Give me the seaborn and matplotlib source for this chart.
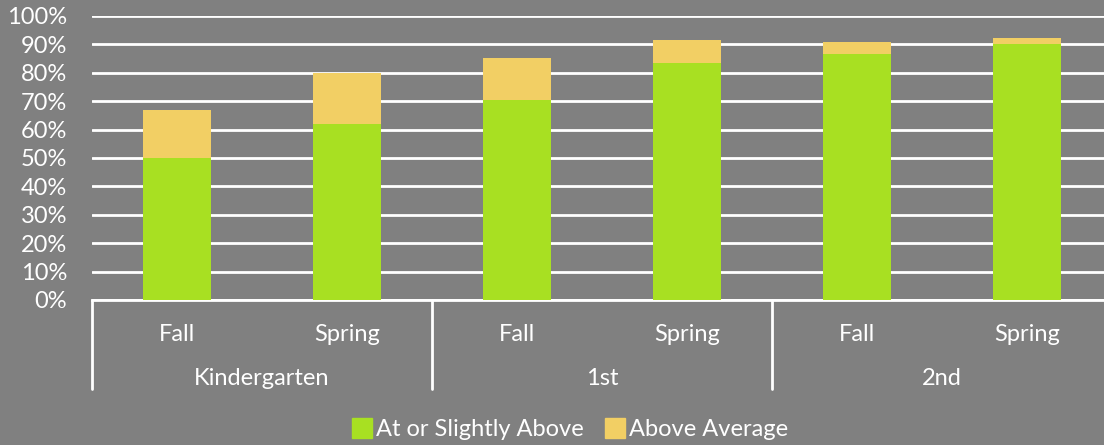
"""
Reading benchmark: share of students at or above benchmark, by grade and term.
"""

import pandas as pd
import seaborn as sns
from matplotlib import pyplot as plt
from matplotlib.lines import Line2D
from matplotlib import transforms

grades = ["Kindergarten", "Kindergarten", "1st", "1st", "2nd", "2nd"]
terms = ["Fall", "Spring", "Fall", "Spring", "Fall", "Spring"]
at_or_slightly_above = [50.0, 62.0, 70.5, 83.5, 86.5, 90.0]
above_average = [17.0, 18.0, 14.7, 8.0, 4.3, 2.3]
group_names = ["Kindergarten", "1st", "2nd"]

green = "#A8E022"
yellow = "#F2CF64"
bg = "#808080"

df = pd.DataFrame({
    "slot": [f"{g} {t}" for g, t in zip(grades, terms)],
    "term": terms,
    "at": at_or_slightly_above,
    "above": above_average,
})
df["total"] = df["at"] + df["above"]

sns.set_style("white")
plt.rcParams["font.family"] = ["Lato", "DejaVu Sans"]

fs = 17

fig = plt.figure(figsize=(11.04, 4.45), dpi=100, facecolor=bg)
ax = fig.add_axes([92 / 1104, 145 / 445, 1020 / 1104, 284 / 445])
ax.set_facecolor(bg)

# stacked bars: total in yellow behind, green part in front
sns.barplot(data=df, x="slot", y="total", color=yellow, width=0.4,
            saturation=1, linewidth=0, ax=ax, zorder=3)
sns.barplot(data=df, x="slot", y="at", color=green, width=0.4,
            saturation=1, linewidth=0, ax=ax, zorder=4)

ax.set_ylim(0, 100)
ax.set_xlim(-0.5, len(df) - 0.5)
ax.set_yticks(range(0, 101, 10))
ax.set_yticklabels([f"{v}%" for v in range(0, 101, 10)], color="white",
                   fontsize=fs)
ax.yaxis.grid(True, color="white", linewidth=2, zorder=0)
ax.set_axisbelow(True)
ax.set_xticks(range(len(df)))
ax.set_xticklabels(df["term"], color="white", fontsize=fs)
ax.tick_params(axis="x", length=0, pad=17)
ax.tick_params(axis="y", length=0, pad=18)
ax.set_xlabel("")
ax.set_ylabel("")

for side in ["top", "right", "left"]:
    ax.spines[side].set_visible(False)
ax.spines["bottom"].set_color("white")
ax.spines["bottom"].set_linewidth(2)

# group separators and group names under the terms
trans = transforms.blended_transform_factory(ax.transData, ax.transAxes)
for x in [-0.5, 1.5, 3.5, 5.5]:
    ax.plot([x, x], [0, -0.315], color="white", linewidth=2,
            transform=trans, clip_on=False)
for i, name in enumerate(group_names):
    ax.text(2 * i + 0.5, -0.275, name, transform=trans, color="white",
            fontsize=fs, ha="center", va="center")

handles = [
    Line2D([], [], marker="s", linestyle="", color=green, markersize=14),
    Line2D([], [], marker="s", linestyle="", color=yellow, markersize=14),
]
fig.legend(handles, ["At or Slightly Above", "Above Average"],
           loc="center", bbox_to_anchor=(569 / 1104, 15 / 445), ncol=2,
           frameon=False, labelcolor="white", fontsize=fs, handletextpad=0.1,
           columnspacing=0.8, handlelength=1.0)

fig.savefig("out.png", dpi=100, facecolor=bg)
